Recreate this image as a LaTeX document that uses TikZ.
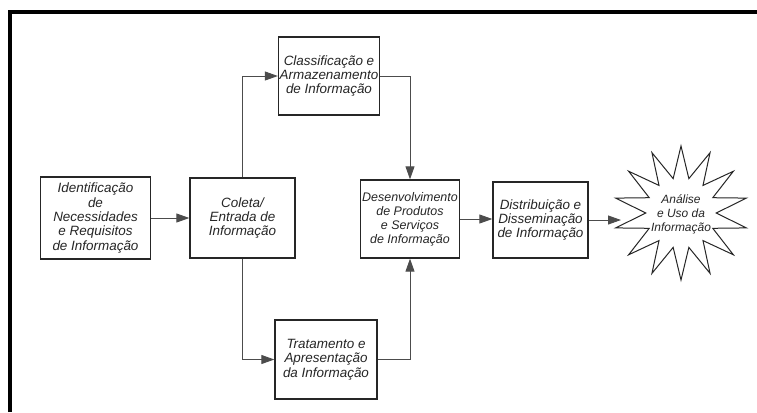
\documentclass[tikz,border=0pt]{standalone}
\usepackage{fontspec}
\setmainfont{Liberation Sans}
\usetikzlibrary{arrows.meta,shapes.geometric}
\begin{document}
\begin{tikzpicture}[x=1bp,y=-1bp,
 txt/.style={align=center, inner sep=0pt, text=black!85, font=\itshape\fontsize{13.5}{14.5}\selectfont},
 box/.style={txt, draw=black!85, line width=1.3bp},
 conn/.style={draw=black!70, line width=0.9bp},
 arr/.style={conn, -{Triangle[length=13bp,width=9bp]}},
]
\useasboundingbox (0,0) rectangle (757,412);
\fill[white] (0,0) rectangle (757,412);
\draw[line width=4.5bp] (10,412) -- (10,12) -- (757,12);

\node[box, minimum width=110bp, minimum height=82bp] (ident) at (95.5,218) {Identificação\\de\\Necessidades\\e Requisitos\\de Informação};
\node[box, minimum width=105bp, minimum height=80bp] (coleta) at (242.5,218) {Coleta/\\Entrada de\\Informação};
\node[box, minimum width=101bp, minimum height=78bp] (classif) at (329,76) {Classificação e\\Armazenamento\\de Informação};
\node[box, minimum width=102bp, minimum height=79bp] (trat) at (326,359.5) {Tratamento e\\Apresentação\\da Informação};
\node[box, minimum width=99bp, minimum height=78bp, font=\itshape\fontsize{12.5}{14}\selectfont] (desenv) at (410,219) {Desenvolvimento\\de Produtos\\e Serviços\\de Informação};
\node[box, minimum width=95bp, minimum height=76bp] (distr) at (540.5,220) {Distribuição e\\Disseminação\\de Informação};
\node[star, star points=14, star point ratio=1.9, minimum size=134bp, draw=black!85, line width=1bp, inner sep=0pt] (star) at (681,213) {};
\node[txt, font=\itshape\fontsize{12}{14}\selectfont] (startext) at (681,214) {Análise\\e Uso da\\Informação};
\coordinate (starin) at (621,219);

\draw[arr] (ident) -- (coleta);
\draw[arr] (coleta.north) |- (classif.west);
\draw[arr] (coleta.south) |- (trat.west);
\draw[arr] (classif.east) -| (desenv.north);
\draw[arr] (trat.east) -| (desenv.south);
\draw[arr] (desenv) -- (distr.west |- desenv);
\draw[arr] (distr.east) -- (distr.east -| starin);
\end{tikzpicture}
\end{document}
